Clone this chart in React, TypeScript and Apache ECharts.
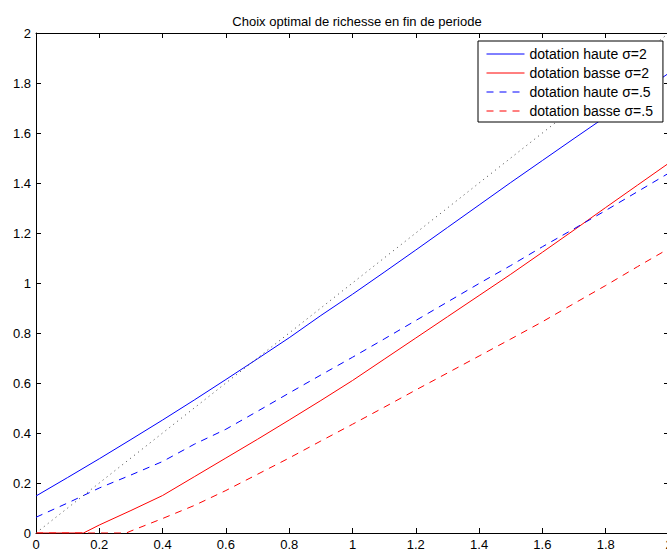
import React, { useEffect, useRef } from "react";
import * as echarts from "echarts";

const TITLE = "Choix optimal de richesse en fin de periode";
const NAMES = [
  "dotation haute σ=2",
  "dotation basse σ=2",
  "dotation haute σ=.5",
  "dotation basse σ=.5",
];

// common x grid
const X = [0, 0.1, 0.2, 0.3, 0.4, 0.5, 0.6, 0.7, 0.8, 0.9, 1.0, 1.1, 1.2, 1.3, 1.4, 1.5, 1.6, 1.7, 1.8, 1.9, 2.0];
const hauteS2 = [0.148, 0.222, 0.297, 0.374, 0.452, 0.532, 0.614, 0.697, 0.781, 0.87, 0.955, 1.043, 1.132, 1.222, 1.312, 1.402, 1.49, 1.578, 1.665, 1.752, 1.84];
const hauteS05 = [0.063, 0.12, 0.18, 0.232, 0.286, 0.355, 0.415, 0.487, 0.56, 0.632, 0.703, 0.776, 0.85, 0.924, 0.998, 1.07, 1.145, 1.217, 1.29, 1.365, 1.44];

const XbasseS2 = [0, 0.15, 0.2, 0.3, 0.4, 0.5, 0.6, 0.7, 0.8, 0.9, 1.0, 1.1, 1.2, 1.3, 1.4, 1.5, 1.6, 1.7, 1.8, 1.9, 2.0];
const basseS2 = [0, 0, 0.032, 0.09, 0.15, 0.225, 0.3, 0.375, 0.452, 0.53, 0.61, 0.695, 0.78, 0.865, 0.95, 1.035, 1.123, 1.212, 1.302, 1.391, 1.48];

const XbasseS05 = [0, 0.285, 0.3, 0.4, 0.5, 0.6, 0.7, 0.8, 0.9, 1.0, 1.1, 1.2, 1.3, 1.4, 1.5, 1.6, 1.7, 1.8, 1.9, 2.0];
const basseS05 = [0, 0, 0.008, 0.058, 0.11, 0.17, 0.235, 0.3, 0.368, 0.435, 0.503, 0.572, 0.64, 0.708, 0.776, 0.845, 0.918, 0.99, 1.065, 1.138];

const diagX = [0, 2];
const diagY = [0, 2];

const FONT = "'Liberation Sans', Arial, Helvetica, sans-serif";

const zip = (xs: number[], ys: number[]) => xs.map((x, i) => [x, ys[i]]);

export default function App() {
  const ref = useRef<HTMLDivElement>(null);
  useEffect(() => {
    if (!ref.current) return;
    const chart = echarts.init(ref.current, null, { renderer: "svg" });
    const axisCommon = {
      type: "value" as const,
      min: 0,
      max: 2,
      interval: 0.2,
      axisLine: { show: true, onZero: false, lineStyle: { color: "#000", width: 1 } },
      axisTick: { show: true, inside: true, length: 5, lineStyle: { color: "#000" } },
      splitLine: { show: false },
    };
    chart.setOption({
      animation: false,
      backgroundColor: "#fff",
      textStyle: { fontFamily: FONT },
      title: {
        text: TITLE,
        left: 352,
        top: 10,
        textAlign: "center",
        textStyle: { fontFamily: FONT, fontSize: 13, fontWeight: "normal", color: "#000" },
      },
      grid: {
        left: 36,
        top: 33,
        width: 633,
        height: 500,
        containLabel: false,
        outerBoundsMode: "none",
      },
      xAxis: [
        {
          ...axisCommon,
          position: "bottom",
          axisLabel: {
            show: true,
            color: "#000",
            fontSize: 13,
            lineHeight: 9,
            fontFamily: FONT,
            margin: 7,
          },
        },
        {
          ...axisCommon,
          position: "top",
          axisLabel: { show: false },
        },
      ],
      yAxis: [
        {
          ...axisCommon,
          position: "left",
          axisLabel: { show: true, color: "#000", fontSize: 13, fontFamily: FONT, margin: 5 },
        },
        {
          ...axisCommon,
          position: "right",
          axisLabel: { show: false },
        },
      ],
      legend: {
        data: NAMES,
        orient: "vertical",
        left: 478,
        top: 41,
        itemWidth: 38,
        itemHeight: 14,
        itemGap: 5,
        padding: [6, 10, 4, 8],
        backgroundColor: "#fff",
        borderColor: "#000",
        borderWidth: 1,
        borderRadius: 0,
        itemStyle: { opacity: 0, borderWidth: 0 },
        lineStyle: { width: 1 },
        textStyle: { fontFamily: FONT, fontSize: 14, color: "#000", lineHeight: 14 },
      },
      series: [
        {
          name: NAMES[0],
          type: "line",
          data: zip(X, hauteS2),
          symbol: "none",
          lineStyle: { color: "#0000ff", width: 1, type: "solid" },
          itemStyle: { color: "#0000ff" },
        },
        {
          name: NAMES[1],
          type: "line",
          data: zip(XbasseS2, basseS2),
          symbol: "none",
          lineStyle: { color: "#ff0000", width: 1, type: "solid" },
          itemStyle: { color: "#ff0000" },
        },
        {
          name: NAMES[2],
          type: "line",
          data: zip(X, hauteS05),
          symbol: "none",
          lineStyle: { color: "#0000ff", width: 1, type: [7, 6] },
          itemStyle: { color: "#0000ff" },
        },
        {
          name: NAMES[3],
          type: "line",
          data: zip(XbasseS05, basseS05),
          symbol: "none",
          lineStyle: { color: "#ff0000", width: 1, type: [7, 6] },
          itemStyle: { color: "#ff0000" },
        },
        {
          name: "45°",
          type: "line",
          data: zip(diagX, diagY),
          symbol: "none",
          lineStyle: { color: "#444", width: 1, type: [1, 4] },
          itemStyle: { color: "#444" },
        },
      ],
    });
    return () => chart.dispose();
  }, []);
  return (
    <div
      ref={ref}
      style={{ position: "fixed", left: 0, top: 0, width: 667, height: 551, background: "#fff" }}
    />
  );
}
